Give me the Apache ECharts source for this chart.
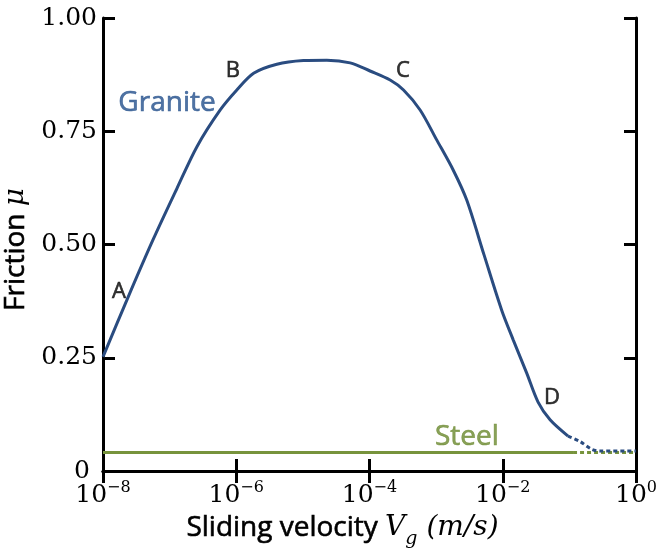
<!DOCTYPE html>
<html>
<head>
<meta charset="utf-8">
<script src="https://cdn.jsdelivr.net/npm/echarts@6/dist/echarts.min.js"></script>
<style>
  html, body { margin: 0; padding: 0; background: #ffffff; }
  #chart { width: 660px; height: 549px; }
</style>
</head>
<body>
<div id="chart"></div>
<script>
// Granite friction curve (measured part, solid line)
const graniteV  = [1e-8, 2.40e-8, 5.62e-8, 1.29e-7, 2.57e-7, 5.75e-7, 1.02e-6, 1.82e-6, 4.07e-6,
                   1.02e-5, 2.29e-5, 5.13e-5, 1.02e-4, 2.04e-4, 3.24e-4, 5.75e-4, 1.02e-3, 1.81e-3,
                   2.88e-3, 5.24e-3, 9.64e-3, 1.44e-2, 2.29e-2, 3.39e-2, 5.13e-2, 9.55e-2];
const graniteMu = [0.252, 0.385, 0.510, 0.624, 0.716, 0.797, 0.841, 0.878, 0.898,
                   0.906, 0.907, 0.901, 0.883, 0.863, 0.841, 0.797, 0.731, 0.664,
                   0.598, 0.477, 0.355, 0.289, 0.216, 0.152, 0.113, 0.077];
// Granite extrapolated tail (dotted)
const graniteTailV  = [9.55e-2, 0.145, 0.216, 0.29, 1];
const graniteTailMu = [0.077, 0.065, 0.048, 0.044, 0.044];
// Steel friction (solid, then dotted)
const steelV  = [1e-8, 0.1135];
const steelMu = [0.041, 0.041];
const steelTailV  = [0.1135, 1];
const steelTailMu = [0.041, 0.041];
// Text annotations placed in data coordinates
const noteText = ['A', 'B', 'C', 'D'];
const noteV    = [1.74e-8, 8.93e-7, 3.18e-4, 5.48e-2];
const noteMu   = [0.395, 0.883, 0.883, 0.161];
const seriesNames = ['Granite', 'Steel'];
const seriesNameV  = [9.14e-8, 2.9e-3];
const seriesNameMu = [0.812, 0.075];

const BLUE = '#2a4c80';
const BLUE_TEXT = '#24508c';
const GREEN = '#77933c';
const GREEN_TEXT = '#6c8a30';
const SANS = 'Open Sans';
const SERIF = 'DejaVu Serif';

const zip = (a, b) => a.map((v, i) => [v, b[i]]);

// slightly heavier sans strokes
const inked = c => ({ color: c, textBorderColor: c, textBorderWidth: 0.6 });

const chart = echarts.init(document.getElementById('chart'), null, { renderer: 'canvas' });

const frameLine = { show: true, lineStyle: { color: '#000', width: 3 } };
const innerTick = { show: true, inside: true, length: 12, lineStyle: { color: '#000', width: 3 } };

const xLabelFmt = v => {
  const e = Math.round(Math.log10(v));
  const s = e < 0 ? '\u2212' + Math.abs(e) : String(e);
  return '{b|10}{e|' + s + '}';
};

chart.setOption({
  animation: false,
  backgroundColor: '#ffffff',
  grid: { left: 103, right: 24, top: 18, bottom: 78, containLabel: false, outerBoundsMode: 'none' },
  xAxis: [
    {
      type: 'log', logBase: 10, min: 1e-8, max: 1, interval: 2,
      position: 'bottom',
      axisLine: frameLine, axisTick: innerTick, splitLine: { show: false },
      axisLabel: {
        margin: 9, formatter: xLabelFmt,
        rich: {
          b: { fontFamily: SERIF, fontSize: 25, color: '#000', verticalAlign: 'bottom', lineHeight: 28 },
          e: { fontFamily: SERIF, fontSize: 16, color: '#000', verticalAlign: 'bottom', lineHeight: 28, padding: [0, 0, 12, 0] }
        }
      },
      name: '{t|Sliding velocity }{m|V}{s|g}{m| (m/s)}',
      nameLocation: 'middle', nameGap: 35,
      nameTextStyle: {
        padding: [0, 54, 0, 0],
        rich: {
          t: Object.assign({ fontFamily: SANS, fontSize: 28, verticalAlign: 'bottom', lineHeight: 36 }, inked('#000')),
          m: { fontFamily: SERIF, fontStyle: 'italic', fontSize: 28, color: '#000', verticalAlign: 'bottom', lineHeight: 36 },
          s: { fontFamily: SERIF, fontStyle: 'italic', fontSize: 19, color: '#000', verticalAlign: 'bottom', lineHeight: 36, padding: [0, 0, -7, 0] }
        }
      }
    },
    {
      type: 'log', logBase: 10, min: 1e-8, max: 1, interval: 2,
      position: 'top',
      axisLine: frameLine, axisTick: innerTick, splitLine: { show: false },
      axisLabel: { show: false }
    }
  ],
  yAxis: [
    {
      type: 'value', min: 0, max: 1, interval: 0.25,
      position: 'left',
      axisLine: frameLine, axisTick: innerTick, splitLine: { show: false },
      axisLabel: {
        margin: 6,
        formatter: v => (v === 0 ? '{z|0}' : '{n|' + v.toFixed(2) + '}'),
        rich: {
          n: { fontFamily: SERIF, fontSize: 25, color: '#000' },
          z: { fontFamily: SERIF, fontSize: 25, color: '#000', padding: [0, 7, 0, 0] }
        }
      },
      name: '{t|Friction }{m|\u03BC}',
      nameLocation: 'middle', nameGap: 57,
      nameTextStyle: {
        padding: [0, 10, 0, 0],
        rich: {
          t: Object.assign({ fontFamily: SANS, fontSize: 28, verticalAlign: 'bottom', lineHeight: 36 }, inked('#000')),
          m: { fontFamily: SERIF, fontStyle: 'italic', fontSize: 28, color: '#000', verticalAlign: 'bottom', lineHeight: 36 }
        }
      }
    },
    {
      type: 'value', min: 0, max: 1, interval: 0.25,
      position: 'right',
      axisLine: frameLine, axisTick: innerTick, splitLine: { show: false },
      axisLabel: { show: false }
    }
  ],
  series: [
    {
      name: 'Steel', type: 'line', data: zip(steelV, steelMu), symbol: 'none',
      lineStyle: { color: GREEN, width: 3 }, z: 3
    },
    {
      name: 'Steel tail', type: 'line', data: zip(steelTailV, steelTailMu), symbol: 'none',
      lineStyle: { color: GREEN, width: 3, type: [4, 3] }, z: 3
    },
    {
      name: 'Granite', type: 'line', data: zip(graniteV, graniteMu), symbol: 'none', smooth: 0.3,
      lineStyle: { color: BLUE, width: 3 }, z: 4
    },
    {
      name: 'Granite tail', type: 'line', data: zip(graniteTailV, graniteTailMu), symbol: 'none', smooth: 0.3,
      lineStyle: { color: BLUE, width: 3, type: [4, 3] }, z: 4
    },
    {
      name: 'Point labels', type: 'scatter', symbolSize: 0, silent: true, z: 5,
      data: noteText.map((t, i) => ({ name: t, value: [noteV[i], noteMu[i]] })),
      label: Object.assign({
        show: true, position: 'inside', formatter: p => p.name,
        fontFamily: SANS, fontSize: 22, align: 'center', verticalAlign: 'middle'
      }, inked('#000'))
    },
    {
      name: 'Material labels', type: 'scatter', symbolSize: 0, silent: true, z: 5,
      data: seriesNames.map((t, i) => ({
        name: t, value: [seriesNameV[i], seriesNameMu[i]],
        label: inked(i === 0 ? BLUE_TEXT : GREEN_TEXT)
      })),
      label: {
        show: true, position: 'inside', formatter: p => p.name,
        fontFamily: SANS, fontSize: 28, align: 'center', verticalAlign: 'middle'
      }
    }
  ]
});
</script>
</body>
</html>
